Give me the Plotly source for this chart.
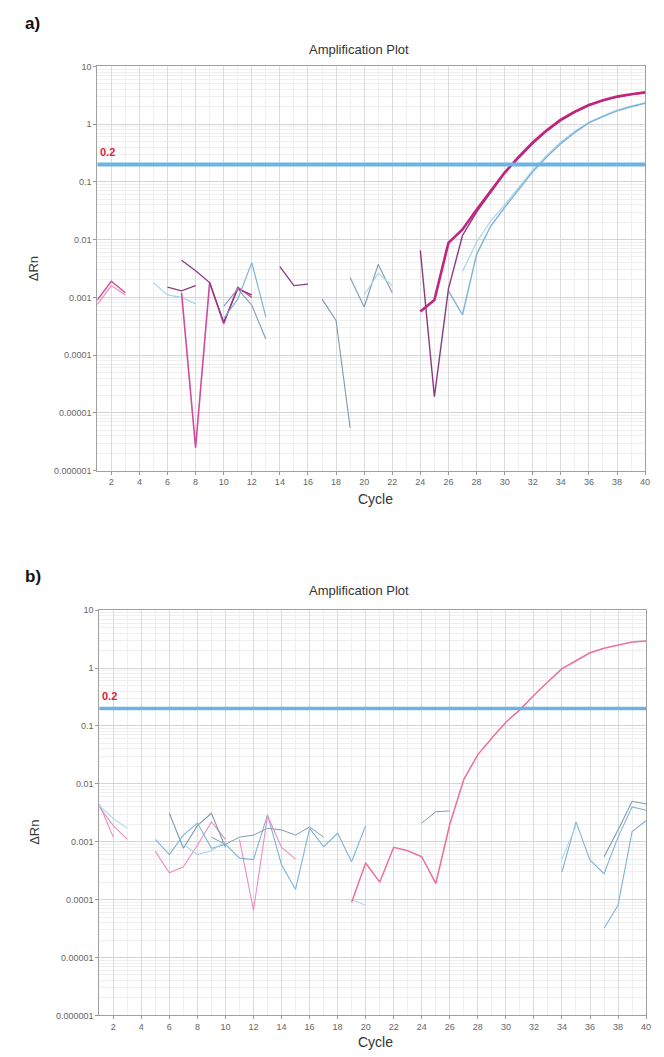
import plotly.graph_objects as go

W, H = 664, 1057

# ---------------- data: panel a ----------------
THRESHOLD = 0.2
X_TICKS = list(range(2, 41, 2))
X_TICK_TEXT = [str(v) for v in X_TICKS]
Y_TICKS = [10, 1, 0.1, 0.01, 0.001, 0.0001, 0.00001, 0.000001]
Y_TICK_TEXT = ["10", "1", "0.1", "0.01", "0.001", "0.0001", "0.00001", "0.000001"]

A_AMP1_CYC = list(range(24, 41))
A_AMP1_DRN = [0.00057, 0.0009, 0.0088, 0.015, 0.033, 0.07, 0.145, 0.27, 0.48, 0.78,
              1.2, 1.65, 2.15, 2.6, 3.0, 3.3, 3.55]
A_AMP2_CYC = list(range(24, 41))
A_AMP2_DRN = [0.0065, 0.000019, 0.0014, 0.0118, 0.03, 0.066, 0.14, 0.26, 0.46, 0.76,
              1.15, 1.6, 2.1, 2.55, 2.95, 3.25, 3.5]
A_AMP3_CYC = list(range(26, 41))
A_AMP3_DRN = [0.0013, 0.0005, 0.0055, 0.017, 0.036, 0.075, 0.15, 0.27, 0.46, 0.72,
              1.05, 1.35, 1.7, 2.0, 2.3]
A_AMP4_CYC = list(range(27, 41))
A_AMP4_DRN = [0.0028, 0.009, 0.021, 0.04, 0.08, 0.16, 0.29, 0.49, 0.75, 1.08,
              1.4, 1.75, 2.05, 2.35]

A_N1_CYC = [1, 2, 3]
A_N1_DRN = [0.0009, 0.0019, 0.0012]
A_N2_CYC = [1, 2, 3]
A_N2_DRN = [0.00075, 0.0016, 0.0011]
A_N3_CYC = [5, 6, 7, 8]
A_N3_DRN = [0.0018, 0.0011, 0.001, 0.00077]
A_N4_CYC = [6, 7, 8]
A_N4_DRN = [0.0015, 0.0013, 0.0016]
A_N5_CYC = [7, 8, 9, 10, 11, 12]
A_N5_DRN = [0.0012, 0.0000025, 0.0018, 0.00035, 0.0015, 0.001]
A_N6_CYC = [7, 8, 9, 10, 11, 12]
A_N6_DRN = [0.0044, 0.0029, 0.0018, 0.00037, 0.0014, 0.0011]
A_N7_CYC = [10, 11, 12, 13]
A_N7_DRN = [0.00043, 0.00093, 0.004, 0.00046]
A_N8_CYC = [10, 11, 12, 13]
A_N8_DRN = [0.0007, 0.0014, 0.00073, 0.00019]
A_N9_CYC = [14, 15, 16]
A_N9_DRN = [0.0034, 0.0016, 0.0017]
A_N10_CYC = [17, 18, 19]
A_N10_DRN = [0.00093, 0.0004, 0.0000055]
A_N11_CYC = [19, 20, 21, 22]
A_N11_DRN = [0.0022, 0.00068, 0.0037, 0.0012]
A_N12_CYC = [20, 21, 22]
A_N12_DRN = [0.0011, 0.0026, 0.0016]

# ---------------- data: panel b ----------------
B_AMP_CYC = list(range(19, 41))
B_AMP_DRN = [0.00009, 0.00043, 0.0002, 0.0008, 0.0007, 0.00055, 0.00019, 0.002,
             0.012, 0.032, 0.062, 0.116, 0.19, 0.34, 0.58, 0.98, 1.34, 1.84,
             2.2, 2.52, 2.83, 2.95]
B_N1_CYC = [1, 2]
B_N1_DRN = [0.0045, 0.0012]
B_N2_CYC = [1, 2, 3]
B_N2_DRN = [0.004, 0.0019, 0.0011]
B_N3_CYC = [1, 2, 3]
B_N3_DRN = [0.0042, 0.0025, 0.0017]
B_N4_CYC = [5, 6, 7, 8, 9, 10]
B_N4_DRN = [0.00068, 0.00029, 0.00037, 0.00087, 0.0022, 0.0011]
B_N5_CYC = [6, 7, 8, 9, 10]
B_N5_DRN = [0.0031, 0.00077, 0.0019, 0.0031, 0.0008]
B_N6_CYC = [5, 6, 7, 8, 9, 10, 11, 12, 13, 14, 15, 16, 17, 18, 19, 20]
B_N6_DRN = [0.0011, 0.0006, 0.0013, 0.0021, 0.00077, 0.0009, 0.00052, 0.00049,
            0.0029, 0.0004, 0.00015, 0.0017, 0.00082, 0.0014, 0.00045, 0.0019]
B_N7_CYC = [9, 10, 11, 12, 13, 14, 15, 16, 17]
B_N7_DRN = [0.0012, 0.0009, 0.0012, 0.0013, 0.0017, 0.0016, 0.0013, 0.0018, 0.0012]
B_N8_CYC = [11, 12, 13, 14, 15]
B_N8_DRN = [0.0011, 0.000065, 0.0028, 0.0008, 0.0005]
B_N9_CYC = [7, 8, 9, 10]
B_N9_DRN = [0.0009, 0.0006, 0.0007, 0.001]
B_N10_CYC = [19, 20]
B_N10_DRN = [0.0001, 0.00008]
B_N11_CYC = [24, 25, 26]
B_N11_DRN = [0.0021, 0.0033, 0.0034]
B_N12_CYC = [34, 35, 36, 37, 38, 39, 40]
B_N12_DRN = [0.0003, 0.0022, 0.00048, 0.00028, 0.0012, 0.004, 0.0035]
B_N13_CYC = [37, 38, 39, 40]
B_N13_DRN = [0.00055, 0.0016, 0.005, 0.0045]
B_N14_CYC = [37, 38, 39, 40]
B_N14_DRN = [0.000032, 0.00008, 0.0015, 0.0023]
B_N15_CYC = [34, 35]
B_N15_DRN = [0.0005, 0.0019]

# ---------------- styles ----------------
MAG = "#c2257e"
MAG2 = "#d24a9e"
PURP = "#8a3a82"
PINK = "#ea8fbd"
BLUE = "#7fb3d8"
GBLUE = "#7f9ab2"
CYAN = "#a8d5ea"
THR = "#6cb4e4"

traces_a = [
    (A_N1_CYC, A_N1_DRN, MAG2, 1.4), (A_N2_CYC, A_N2_DRN, PINK, 1.2),
    (A_N3_CYC, A_N3_DRN, CYAN, 1.2), (A_N4_CYC, A_N4_DRN, PURP, 1.3),
    (A_N5_CYC, A_N5_DRN, MAG2, 1.6), (A_N6_CYC, A_N6_DRN, PURP, 1.3),
    (A_N7_CYC, A_N7_DRN, BLUE, 1.2), (A_N8_CYC, A_N8_DRN, GBLUE, 1.1),
    (A_N9_CYC, A_N9_DRN, PURP, 1.3), (A_N10_CYC, A_N10_DRN, GBLUE, 1.1),
    (A_N11_CYC, A_N11_DRN, GBLUE, 1.1), (A_N12_CYC, A_N12_DRN, CYAN, 1.1),
    (A_AMP4_CYC, A_AMP4_DRN, CYAN, 1.2), (A_AMP3_CYC, A_AMP3_DRN, BLUE, 1.4),
    (A_AMP2_CYC, A_AMP2_DRN, PURP, 1.4), (A_AMP1_CYC, A_AMP1_DRN, MAG, 2.6),
]
traces_b = [
    (B_N1_CYC, B_N1_DRN, PINK, 1.1), (B_N2_CYC, B_N2_DRN, PINK, 1.1),
    (B_N3_CYC, B_N3_DRN, CYAN, 1.1), (B_N4_CYC, B_N4_DRN, PINK, 1.1),
    (B_N5_CYC, B_N5_DRN, GBLUE, 1.1), (B_N6_CYC, B_N6_DRN, BLUE, 1.1),
    (B_N7_CYC, B_N7_DRN, GBLUE, 1.0), (B_N8_CYC, B_N8_DRN, PINK, 1.1),
    (B_N9_CYC, B_N9_DRN, CYAN, 1.1), (B_N10_CYC, B_N10_DRN, CYAN, 1.0),
    (B_N11_CYC, B_N11_DRN, GBLUE, 1.0), (B_N12_CYC, B_N12_DRN, BLUE, 1.1),
    (B_N13_CYC, B_N13_DRN, GBLUE, 1.1), (B_N14_CYC, B_N14_DRN, BLUE, 1.1),
    (B_N15_CYC, B_N15_DRN, CYAN, 1.0), (B_AMP_CYC, B_AMP_DRN, "#ec6f9c", 1.5),
]

fig = go.Figure()
for (xs, ys, col, w) in traces_a:
    fig.add_trace(go.Scatter(x=xs, y=ys, mode="lines", line=dict(color=col, width=w),
                             xaxis="x", yaxis="y", showlegend=False, hoverinfo="skip"))
for (xs, ys, col, w) in traces_b:
    fig.add_trace(go.Scatter(x=xs, y=ys, mode="lines", line=dict(color=col, width=w),
                             xaxis="x2", yaxis="y2", showlegend=False, hoverinfo="skip"))

# threshold lines
fig.add_trace(go.Scatter(x=[1, 40], y=[THRESHOLD, THRESHOLD], mode="lines",
                         line=dict(color=THR, width=4), xaxis="x", yaxis="y",
                         showlegend=False, hoverinfo="skip"))
fig.add_trace(go.Scatter(x=[1, 40], y=[THRESHOLD, THRESHOLD], mode="lines",
                         line=dict(color=THR, width=3.5), xaxis="x2", yaxis="y2",
                         showlegend=False, hoverinfo="skip"))

tickfont = dict(family="Liberation Sans, Arial, sans-serif", size=9, color="#666666")


def xax(domain, anchor):
    return dict(domain=domain, anchor=anchor, range=[1, 40], tickmode="array",
                tickvals=X_TICKS, ticktext=X_TICK_TEXT, tickfont=tickfont,
                ticks="outside", ticklen=3, tickcolor="#999999",
                showline=True, linecolor="#a0a0a0", linewidth=1, mirror=True,
                showgrid=True, gridcolor="#dcdcdc", gridwidth=1, zeroline=False,
                minor=dict(dtick=1, showgrid=True, gridcolor="#efefef", gridwidth=1),
                fixedrange=True)


def yax(domain, anchor):
    return dict(domain=domain, anchor=anchor, type="log", range=[-6, 1],
                tickmode="array", tickvals=Y_TICKS, ticktext=Y_TICK_TEXT,
                tickfont=tickfont, ticks="outside", ticklen=3, tickcolor="#999999",
                showline=True, linecolor="#a0a0a0", linewidth=1, mirror=True,
                showgrid=True, gridcolor="#d4d4d4", gridwidth=1, zeroline=False,
                minor=dict(dtick="D1", showgrid=True, gridcolor="#efefef", gridwidth=1),
                fixedrange=True)


fig.update_layout(
    width=W, height=H, margin=dict(l=0, r=0, t=0, b=0),
    paper_bgcolor="white", plot_bgcolor="white",
    xaxis=xax([98 / W, 650 / W], "y"),
    yaxis=yax([1 - 470 / H, 1 - 62 / H], "x"),
    xaxis2=xax([100 / W, 651 / W], "y2"),
    yaxis2=yax([1 - 1020 / H, 1 - 611 / H], "x2"),
)


def px(x, y):
    return x / W, 1 - y / H


def ann(text, x, y, size, color="#222222", bold=False, angle=0, xanchor="center"):
    ax, ay = px(x, y)
    fig.add_annotation(text=("<b>%s</b>" % text) if bold else text, x=ax, y=ay,
                       xref="paper", yref="paper", showarrow=False, textangle=angle,
                       xanchor=xanchor, yanchor="middle",
                       font=dict(family="Liberation Sans, Arial, sans-serif",
                                 size=size, color=color))


ann("a)", 33, 19, 17, "#111111", bold=True)
ann("b)", 33, 577, 17, "#111111", bold=True)
ann("Amplification Plot", 362, 45, 13, "#333333")
ann("Amplification Plot", 362, 591, 13, "#333333")
ann("ΔRn", 34, 266, 13, "#333333", angle=-90)
ann("ΔRn", 34, 835, 13, "#333333", angle=-90)
ann("Cycle", 378, 499, 14, "#333333")
ann("Cycle", 378, 1047, 14, "#333333")

# threshold value labels (data-anchored)
for xr, yr in (("x", "y"), ("x2", "y2")):
    fig.add_annotation(text="<b>0.2</b>", x=1, y=-0.62, xref=xr, yref=yr,
                       showarrow=False, xanchor="left", yanchor="bottom",
                       xshift=1, font=dict(family="Liberation Sans, Arial, sans-serif",
                                           size=11, color="#e0203a"))

fig.write_html(
    "out.html",
    config={"displayModeBar": False},
    post_script="document.body.style.margin='0';document.body.style.padding='0';"
                "document.body.style.overflow='hidden';",
)
